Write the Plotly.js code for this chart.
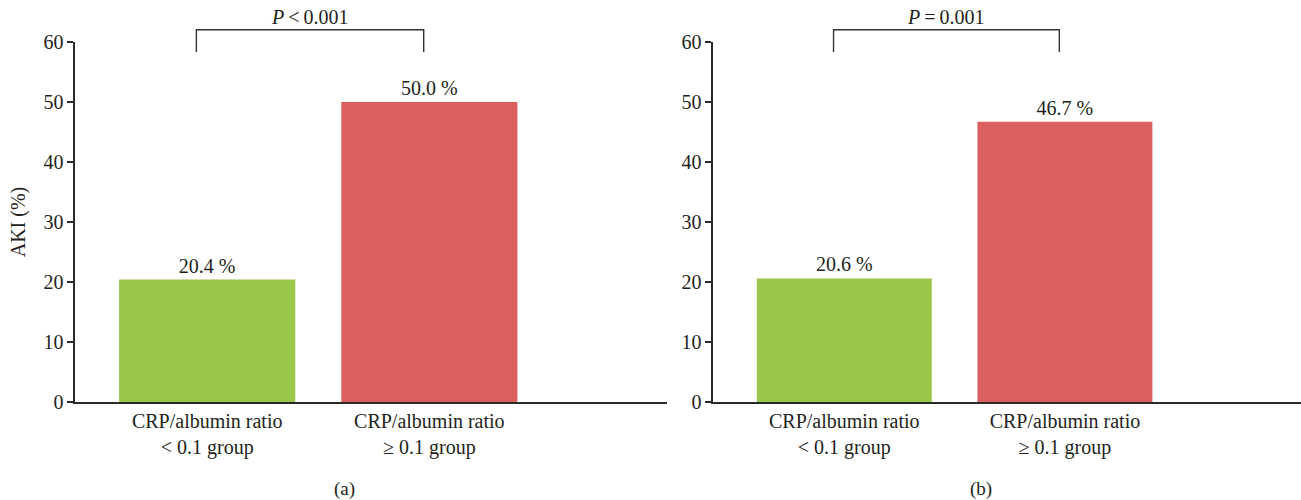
<!DOCTYPE html>
<html>
<head>
<meta charset="utf-8">
<script src="https://cdn.plot.ly/plotly-3.0.1.min.js"></script>
<style>html,body{margin:0;padding:0;background:#fff;}#chart{width:1301px;height:500px;}</style>
</head>
<body>
<div id="chart"></div>
<script>
// Data
var categories = ["CRP/albumin ratio<br>&lt; 0.1 group", "CRP/albumin ratio<br>≥ 0.1 group"];
var valuesA = [20.4, 50.0];
var valuesB = [20.6, 46.7];
var barColors = ["#9AC64B", "#DC5F5F"];
var pLabelA = "<i>P</i>\u2009&lt;\u20090.001";
var pLabelB = "<i>P</i>\u2009=\u20090.001";
var panelLabels = ["(a)", "(b)"];
var yTicks = [0, 10, 20, 30, 40, 50, 60];

var FONT = "'Liberation Serif', 'Times New Roman', serif";
var TXT = "#231f20";

function barTrace(vals, xa, ya) {
  return {
    type: "bar",
    x: categories,
    y: vals,
    xaxis: xa,
    yaxis: ya,
    marker: {color: barColors},
    text: vals.map(function(v){ return v.toFixed(1) + " %"; }),
    textposition: "outside",
    cliponaxis: false,
    textfont: {family: FONT, size: 20, color: TXT},
    hoverinfo: "skip",
    showlegend: false
  };
}

var data = [barTrace(valuesA, "x", "y"), barTrace(valuesB, "x2", "y2")];

function xAxis(domain, anchor) {
  return {
    domain: domain,
    anchor: anchor,
    type: "category",
    range: [-0.595, 2.07],
    showline: true,
    linecolor: "#2a2a2a",
    linewidth: 1.6,
    ticks: "",
    showgrid: false,
    zeroline: false,
    tickfont: {family: FONT, size: 20, color: TXT},
    fixedrange: true
  };
}
function yAxis(anchor, title) {
  return {
    anchor: anchor,
    range: [0, 60],
    tickvals: yTicks,
    ticktext: yTicks.map(String),
    showline: true,
    linecolor: "#2a2a2a",
    linewidth: 1.6,
    ticks: "outside",
    ticklen: 6,
    tickwidth: 1.6,
    tickcolor: "#2a2a2a",
    showgrid: false,
    zeroline: false,
    tickfont: {family: FONT, size: 20, color: TXT},
    title: title ? {text: title, font: {family: FONT, size: 20, color: TXT}, standoff: 12} : {text: ""},
    fixedrange: true
  };
}

var domA = [0, 0.4829];
var domB = [0.5204, 1];

function bracket(xr, yr) {
  return {
    type: "path",
    xref: xr + " domain",
    yref: yr + " domain",
    path: "M 0.205 0.972 L 0.205 1.034 L 0.589 1.034 L 0.589 0.972",
    line: {color: "#333", width: 1.4}
  };
}

var layout = {
  width: 1301,
  height: 500,
  margin: {l: 75, r: 0, t: 42, b: 98},
  paper_bgcolor: "#fff",
  plot_bgcolor: "#fff",
  bargap: 0.207,
  font: {family: FONT, color: TXT},
  xaxis: xAxis(domA, "y"),
  yaxis: yAxis("x", "AKI (%)"),
  xaxis2: xAxis(domB, "y2"),
  yaxis2: yAxis("x2", ""),
  shapes: [bracket("x", "y"), bracket("x2", "y2")],
  annotations: [
    {xref: "x domain", yref: "y domain", x: 0.397, y: 1.034, yanchor: "bottom", text: pLabelA, showarrow: false, font: {family: FONT, size: 20, color: TXT}, yshift: 0},
    {xref: "x2 domain", yref: "y2 domain", x: 0.397, y: 1.034, yanchor: "bottom", text: pLabelB, showarrow: false, font: {family: FONT, size: 20, color: TXT}, yshift: 0},
    {xref: "x", yref: "paper", x: 0.62, y: -0.242, yanchor: "middle", text: panelLabels[0], showarrow: false, font: {family: FONT, size: 19, color: TXT}},
    {xref: "x2", yref: "paper", x: 0.62, y: -0.242, yanchor: "middle", text: panelLabels[1], showarrow: false, font: {family: FONT, size: 19, color: TXT}}
  ]
};

Plotly.newPlot("chart", data, layout, {displayModeBar: false, staticPlot: true});
</script>
</body>
</html>
